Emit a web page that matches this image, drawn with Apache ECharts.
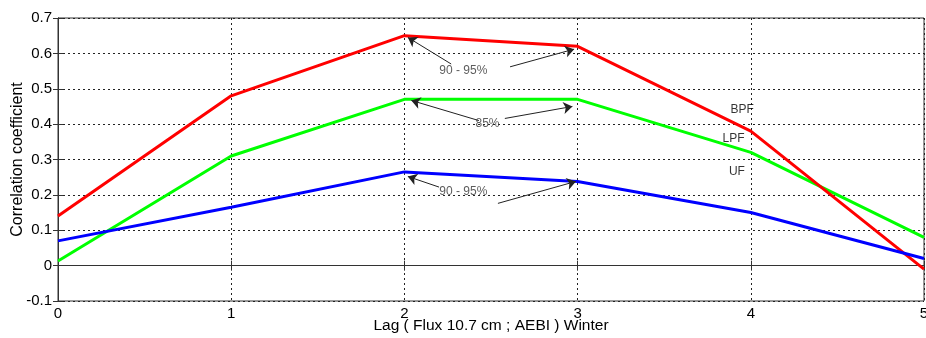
<!DOCTYPE html>
<html>
<head>
<meta charset="utf-8">
<script src="https://cdn.jsdelivr.net/npm/echarts@6/dist/echarts.min.js"></script>
<style>
  html, body { margin: 0; padding: 0; background: #fff; }
  #chart { width: 926px; height: 338px; }
</style>
</head>
<body>
<div id="chart"></div>
<script>
// lag values (x axis)
const lags = [0, 1, 2, 3, 4, 5];
// correlation per filter
const bpf = [0.14, 0.48, 0.65, 0.62, 0.38, -0.01];
const lpf = [0.013, 0.31, 0.47, 0.47, 0.32, 0.08];
const uf = [0.07, 0.165, 0.265, 0.238, 0.15, 0.02];

// series name labels placed near lag 4
const curveLabels = ["BPF", "LPF", "UF"];
const curveLabelPos = [[3.95, 0.44], [3.9, 0.36], [3.92, 0.265]];

// significance annotations: text + arrows (from -> to, data coords)
const noteTexts = ["90 - 95%", "85%", "90 - 95%"];
const notePos = [[2.34, 0.552], [2.48, 0.4], [2.34, 0.21]];
const arrowFrom = [[2.27, 0.57], [2.61, 0.562], [2.43, 0.41], [2.58, 0.416], [2.2, 0.222], [2.54, 0.176]];
const arrowTo = [[2.02, 0.645], [2.98, 0.612], [2.04, 0.467], [2.97, 0.45], [2.02, 0.252], [2.99, 0.238]];

const pairs = (ys) => lags.map((x, i) => [x, ys[i]]);

const chart = echarts.init(document.getElementById("chart"));

const font = "Liberation Sans";
const gridLine = { lineStyle: { color: "#222", type: [2, 3], width: 1 } };

const option = {
    animation: false,
    backgroundColor: "#fff",
    textStyle: { fontFamily: font },
    grid: {
        left: 58, right: 2, top: 18, bottom: 37,
        outerBoundsMode: "none", containLabel: false,
        show: true, borderColor: "#333", borderWidth: 1, backgroundColor: "transparent"
    },
    xAxis: [
        {
            type: "value", min: 0, max: 5, interval: 1,
            name: "Lag ( Flux 10.7 cm ; AEBI ) Winter",
            nameLocation: "middle", nameGap: 17, nameMoveOverlap: false,
            nameTextStyle: { color: "#000", fontSize: 15.5, fontFamily: font },
            axisLine: { lineStyle: { color: "#333" } },
            axisTick: { inside: true, length: 5, lineStyle: { color: "#333" } },
            axisLabel: { color: "#000", fontSize: 15, margin: 5, fontFamily: font },
            splitLine: gridLine
        },
        {
            type: "value", min: 0, max: 5, interval: 1, position: "top",
            axisLine: { lineStyle: { color: "#333" } },
            axisTick: { inside: true, length: 5, lineStyle: { color: "#333" } },
            axisLabel: { show: false }, splitLine: { show: false }
        }
    ],
    yAxis: [
        {
            type: "value", min: -0.1, max: 0.7, interval: 0.1,
            name: "Correlation coefficient",
            nameLocation: "middle", nameGap: 32, nameMoveOverlap: false,
            nameTextStyle: { color: "#000", fontSize: 16, fontFamily: font },
            axisLine: { show: true, lineStyle: { color: "#333" } },
            axisTick: { show: true, inside: true, length: 5, lineStyle: { color: "#333" } },
            axisLabel: { color: "#000", fontSize: 15, margin: 6, fontFamily: font,
                formatter: v => String(Math.round(v * 10) / 10) },
            splitLine: gridLine
        },
        {
            type: "value", min: -0.1, max: 0.7, interval: 0.1, position: "right",
            axisLine: { show: true, lineStyle: { color: "#333" } },
            axisTick: { show: true, inside: true, length: 5, lineStyle: { color: "#333" } },
            axisLabel: { show: false }, splitLine: { show: false }
        }
    ],
    series: [
        { name: "BPF", type: "line", data: pairs(bpf), symbol: "none", lineStyle: { color: "#ff0000", width: 3 }, z: 3 },
        { name: "LPF", type: "line", data: pairs(lpf), symbol: "none", lineStyle: { color: "#00ff00", width: 3 }, z: 2 },
        { name: "UF", type: "line", data: pairs(uf), symbol: "none", lineStyle: { color: "#0000ff", width: 3 }, z: 4 },
        {
            // arrows for significance notes
            name: "arrows", type: "line", data: [], symbol: "none",
            markLine: {
                silent: true,
                symbol: ["none", "arrow"],
                symbolSize: 9,
                label: { show: false },
                lineStyle: { color: "#222", width: 1, type: "solid" },
                itemStyle: { color: "#222" },
                data: arrowFrom.map((p, i) => [{ coord: p }, { coord: arrowTo[i] }])
            },
            z: 5
        },
        {
            name: "notes", type: "scatter", symbolSize: 0,
            data: notePos.map((p, i) => ({ value: p, name: noteTexts[i] })),
            label: { show: true, position: "inside", formatter: "{b}", color: "#333", fontSize: 12, fontFamily: font },
            z: 6
        },
        {
            name: "curveNames", type: "scatter", symbolSize: 0,
            data: curveLabelPos.map((p, i) => ({ value: p, name: curveLabels[i] })),
            label: { show: true, position: "inside", formatter: "{b}", color: "#000", fontSize: 12, fontFamily: font },
            z: 6
        }
    ]
};

chart.setOption(option);
</script>
</body>
</html>
